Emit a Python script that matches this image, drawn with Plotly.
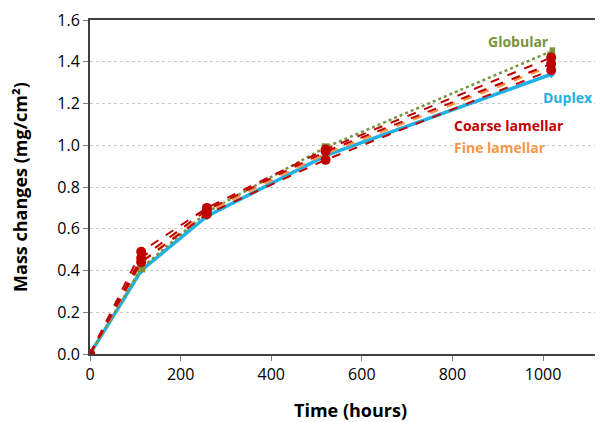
import plotly.graph_objects as go

time_h = [0, 113, 258, 520, 1018]
globular = [0, 0.41, 0.68, 0.99, 1.45]
duplex = [0, 0.40, 0.66, 0.95, 1.34]
fine_lamellar = [0, 0.44, 0.68, 0.96, 1.38]
coarse_lamellar_a = [0, 0.49, 0.70, 0.98, 1.42]
coarse_lamellar_b = [0, 0.46, 0.69, 0.97, 1.39]
coarse_lamellar_c = [0, 0.44, 0.67, 0.93, 1.36]

GREEN = "#77933C"
BLUE = "#1FB0E6"
ORANGE = "#F79646"
RED = "#C00000"

fig = go.Figure()
fig.add_trace(go.Scatter(x=time_h, y=duplex, mode="lines+markers", name="Duplex",
                         line=dict(color=BLUE, width=3.5), marker=dict(symbol="diamond", size=6, color=BLUE)))
fig.add_trace(go.Scatter(x=time_h, y=globular, mode="lines+markers", name="Globular",
                         line=dict(color=GREEN, width=2.5, dash="dot"), marker=dict(symbol="square", size=8, color=GREEN)))
fig.add_trace(go.Scatter(x=time_h, y=fine_lamellar, mode="lines+markers", name="Fine lamellar",
                         line=dict(color=ORANGE, width=2.5, dash="dash"), marker=dict(symbol="circle", size=7, color=ORANGE)))
for ys in (coarse_lamellar_c, coarse_lamellar_b, coarse_lamellar_a):
    fig.add_trace(go.Scatter(x=time_h, y=ys, mode="lines+markers", name="Coarse lamellar",
                             line=dict(color=RED, width=2, dash="dash"), marker=dict(symbol="circle", size=10, color=RED)))

fig.update_layout(
    width=603, height=422,
    margin=dict(l=82, r=0, t=12, b=76),
    plot_bgcolor="white", paper_bgcolor="white",
    showlegend=False,
    font=dict(family="Open Sans, sans-serif", size=16, color="#000000"),
    xaxis=dict(range=[0, 1150], tickvals=[0, 200, 400, 600, 800, 1000], showgrid=False,
               showline=True, linecolor="#404040", linewidth=2, mirror=True,
               ticks="outside", ticklen=5, tickcolor="#808080", zeroline=False, automargin=False,
               title=dict(text="<b>Time (hours)</b>", font=dict(size=18), standoff=20)),
    yaxis=dict(range=[0, 1.6], tickvals=[0, 0.2, 0.4, 0.6, 0.8, 1.0, 1.2, 1.4, 1.6],
               tickformat=".1f", showgrid=True, gridcolor="#C8C8C8", griddash="dot", gridwidth=1,
               showline=True, linecolor="#404040", linewidth=2,
               ticks="outside", ticklen=5, tickcolor="#808080", zeroline=False, automargin=False,
               title=dict(text="<b>Mass changes (mg/cm²)</b>", font=dict(size=18), standoff=26)),
)

# label text, anchor x (px), center y (px), anchor side, colour
annos = [("Globular", 487, 41, "left", GREEN), ("Duplex", 594, 97, "right", BLUE),
         ("Coarse lamellar", 453, 126, "left", RED), ("Fine lamellar", 453, 147, "left", ORANGE)]
for text, px, py, anc, col in annos:
    fig.add_annotation(text=f"<b>{text}</b>", xref="paper", yref="paper",
                       x=(px - 90) / 521, y=(354 - py) / 334, showarrow=False,
                       xanchor=anc, yanchor="middle",
                       font=dict(size=14, color=col), bgcolor="white", borderpad=0)

fig.write_html("out.html")
